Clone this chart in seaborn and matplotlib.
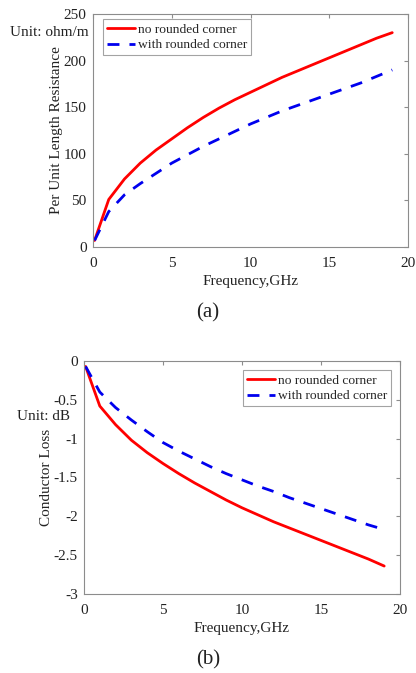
import matplotlib
matplotlib.use("Agg")
import matplotlib.pyplot as plt
import seaborn as sns

sns.set_style("white")
plt.rcParams['font.family'] = ['Liberation Serif', 'DejaVu Serif']

# data
freq = [0.1, 1, 2, 3, 4, 5, 6, 7, 8, 9, 10, 11, 12, 13, 14, 15, 16, 17, 18, 19]
res_no_round = [7, 51, 73, 90, 104, 116, 128, 139, 149, 158, 166, 174, 182, 189, 196, 203, 210, 217, 224, 230]
res_round = [7, 38, 56, 68, 79, 90, 99, 108, 116, 124, 132, 139, 146, 152, 158, 164, 170, 176, 183, 190]
loss_no_round = [-0.07, -0.58, -0.82, -1.02, -1.18, -1.32, -1.45, -1.57, -1.68, -1.79, -1.89, -1.98, -2.07, -2.15, -2.23, -2.31, -2.39, -2.47, -2.55, -2.64]
loss_round = [-0.07, -0.40, -0.60, -0.76, -0.91, -1.05, -1.16, -1.26, -1.36, -1.45, -1.53, -1.61, -1.68, -1.76, -1.83, -1.90, -1.97, -2.04, -2.11, -2.17]
labels = ["no rounded corner", "with rounded corner"]

fig = plt.figure(figsize=(4.16, 6.73), dpi=100)
W, H = 416, 673
ax1 = fig.add_axes([93 / W, 1 - 247 / H, 315 / W, 233 / H])
ax2 = fig.add_axes([84 / W, 1 - 594 / H, 316 / W, 233 / H])

dash = (0, (4.3, 3.6))

def style(ax):
    for s in ax.spines.values():
        s.set_color("#8c8c8c")
        s.set_linewidth(0.8)
    ax.tick_params(direction="in", top=True, right=True, length=3,
                   color="#8c8c8c", labelsize=11, labelcolor="#222222")
    ax.tick_params(axis="x", pad=7)
    ax.tick_params(axis="y", pad=4.5)
    ax.set_xlim(0, 20)
    ax.set_xticks([0, 5, 10, 15, 20])
    ax.set_xlabel("Frequency,GHz", fontsize=11, color="#222222", labelpad=4)

def legend(ax, loc, anchor):
    leg = ax.legend(loc=loc, bbox_to_anchor=anchor, fontsize=9.7,
                    frameon=True, fancybox=False, handlelength=2.1, handletextpad=0.2,
                    borderpad=0.3, labelspacing=0.25, borderaxespad=0)
    leg.get_frame().set_edgecolor("#8c8c8c")
    leg.get_frame().set_linewidth(0.8)

# (a) resistance
sns.lineplot(x=freq, y=res_no_round, ax=ax1, color="#ff0000", lw=2, label=labels[0])
sns.lineplot(x=freq, y=res_round, ax=ax1, color="#0000ee", lw=2, ls=dash, label=labels[1])
style(ax1)
ax1.set_ylim(0, 250)
ax1.set_yticks([0, 50, 100, 150, 200, 250])
ax1.set_ylabel("Per Unit Length Resistance", fontsize=11, color="#222222", labelpad=0.5)
legend(ax1, "upper left", (0.032, 0.978))
fig.text(10 / W, 1 - 33 / H, "Unit: ohm/m", fontsize=11, color="#222222", va="center", ha="left")
fig.text(0.5, 1 - 313 / H, "(a)", fontsize=15, color="#222222", ha="center", va="center")

# (b) conductor loss
sns.lineplot(x=freq, y=loss_no_round, ax=ax2, color="#ff0000", lw=2, label=labels[0])
sns.lineplot(x=freq, y=loss_round, ax=ax2, color="#0000ee", lw=2, ls=dash, label=labels[1])
style(ax2)
ax2.set_ylim(-3, 0)
ax2.set_yticks([-3, -2.5, -2, -1.5, -1, -0.5, 0])
ax2.set_yticklabels(["-3", "-2.5", "-2", "-1.5", "-1", "-0.5", "0"])
ax2.set_ylabel("Conductor Loss", fontsize=11, color="#222222", labelpad=0.5)
legend(ax2, "upper right", (0.9715, 0.961))
fig.text(17 / W, 1 - 417 / H, "Unit: dB", fontsize=11, color="#222222", va="center", ha="left")
fig.text(0.5, 1 - 660 / H, "(b)", fontsize=15, color="#222222", ha="center", va="center")

fig.savefig("out.png", dpi=100)
